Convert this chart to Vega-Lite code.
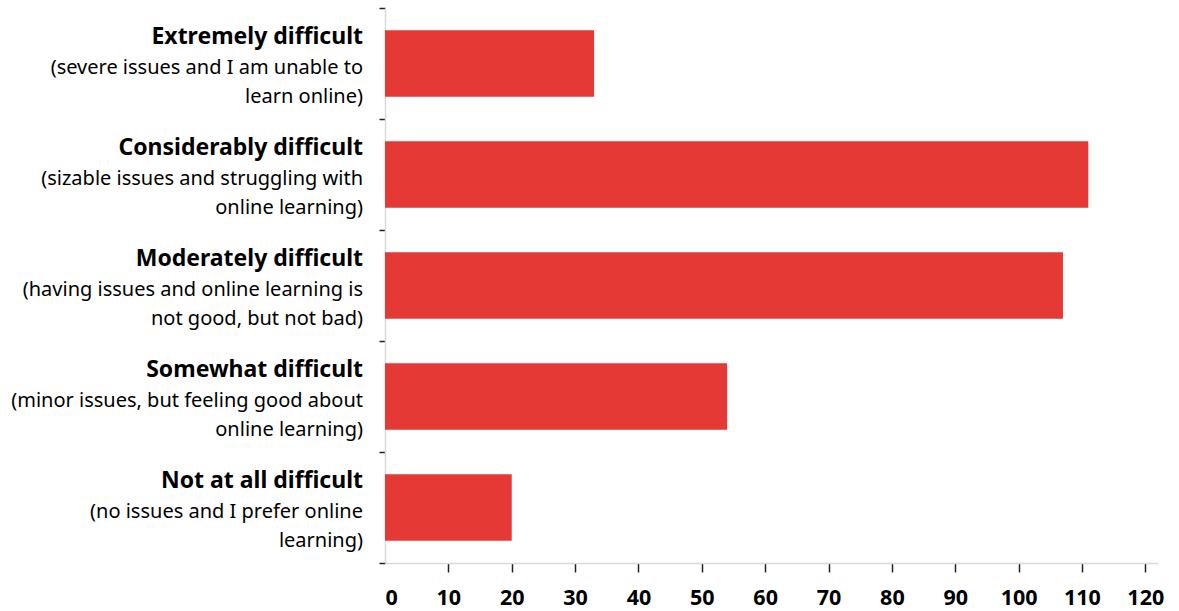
{
  "$schema": "https://vega.github.io/schema/vega-lite/v6.json",
  "autosize": "none",
  "padding": {"left": 385, "top": 8, "right": 21, "bottom": 48},
  "width": 773,
  "height": 555,
  "background": "white",
  "config": {
    "view": {"stroke": null},
    "font": "Noto Sans"
  },
  "data": {
    "values": [
      {"level": "Extremely difficult", "sub": "(severe issues and I am unable to\nlearn online)", "count": 33},
      {"level": "Considerably difficult", "sub": "(sizable issues and struggling with\nonline learning)", "count": 111},
      {"level": "Moderately difficult", "sub": "(having issues and online learning is\nnot good, but not bad)", "count": 107},
      {"level": "Somewhat difficult", "sub": "(minor issues, but feeling good about\nonline learning)", "count": 54},
      {"level": "Not at all difficult", "sub": "(no issues and I prefer online\nlearning)", "count": 20}
    ]
  },
  "encoding": {
    "y": {
      "field": "level",
      "type": "nominal",
      "sort": null,
      "scale": {"paddingInner": 0, "paddingOuter": 0},
      "axis": {
        "title": null,
        "labels": false,
        "tickBand": "extent",
        "ticks": true,
        "tickSize": 6,
        "tickColor": "#222222",
        "tickWidth": 1.5,
        "domainColor": "#d9d9d9",
        "domainWidth": 1.5,
        "grid": false
      }
    }
  },
  "layer": [
    {
      "mark": {"type": "bar", "color": "#e53935", "height": {"band": 0.6}},
      "encoding": {
        "x": {
          "field": "count",
          "type": "quantitative",
          "scale": {"domain": [0, 122], "nice": false, "zero": true},
          "axis": {
            "title": null,
            "values": [0, 10, 20, 30, 40, 50, 60, 70, 80, 90, 100, 110, 120],
            "grid": false,
            "domainColor": "#d9d9d9",
            "domainWidth": 1.5,
            "tickColor": "#222222",
            "tickWidth": 1.5,
            "tickSize": 9,
            "tickOpacity": {"condition": {"test": "datum.value == 0", "value": 0}, "value": 1},
            "labelFont": "Noto Sans",
            "labelFontSize": 21.5,
            "labelFontWeight": "bold",
            "labelColor": "#000000",
            "labelPadding": 15,
            "labelBaseline": "top"
          }
        }
      }
    },
    {
      "mark": {"type": "text", "align": "right", "baseline": "alphabetic", "dx": -22, "dy": -19.5, "fontSize": 23, "fontWeight": "bold", "color": "#000000", "font": "Noto Sans"},
      "encoding": {
        "x": {"datum": 0, "type": "quantitative"},
        "text": {"field": "level", "type": "nominal"}
      }
    },
    {
      "mark": {"type": "text", "align": "right", "baseline": "alphabetic", "dx": -22, "dy": 10.5, "fontSize": 20, "lineHeight": 28.5, "lineBreak": "\n", "color": "#000000", "font": "Noto Sans"},
      "encoding": {
        "x": {"datum": 0, "type": "quantitative"},
        "text": {"field": "sub", "type": "nominal"}
      }
    }
  ]
}
